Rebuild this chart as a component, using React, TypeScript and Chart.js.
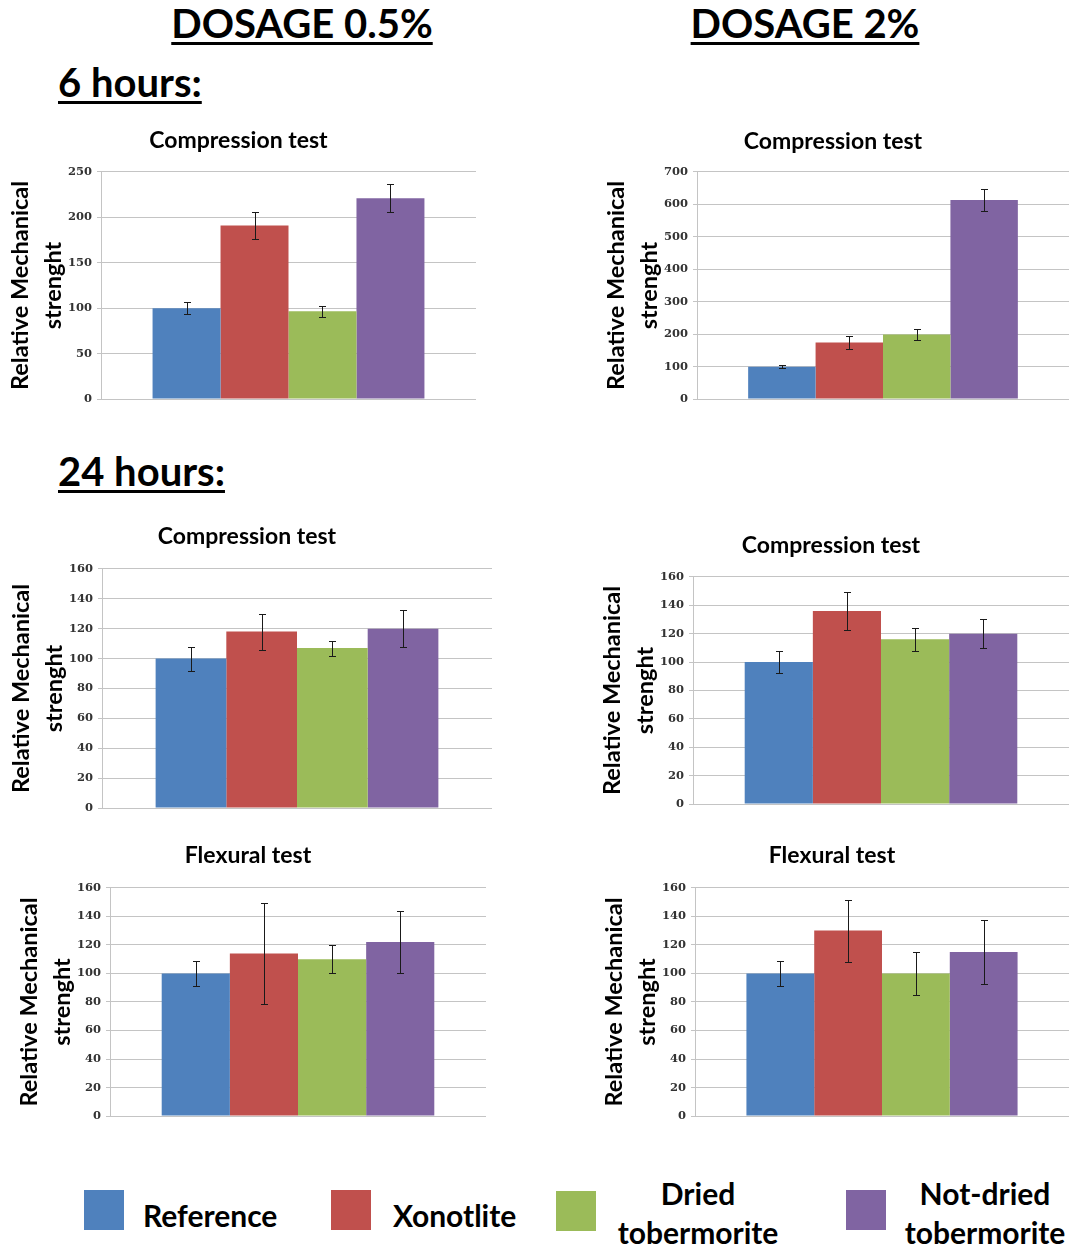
import React, { useEffect, useRef } from 'react';
import { Chart, registerables } from 'chart.js';

Chart.register(...registerables);

// ---------- data ----------
const materials = ['Reference', 'Xonotlite', 'Dried tobermorite', 'Not-dried tobermorite'];
const materialColors = ['#4f81bd', '#c0504d', '#9bbb59', '#8064a2'];

// 6 hours, dosage 0.5% - compression
const comp6h05 = [100, 191, 96.5, 221];
const comp6h05Err = [6.8, 14.7, 6, 15.4];
// 6 hours, dosage 2% - compression
const comp6h2 = [100, 174, 199, 613];
const comp6h2Err = [5, 20, 16, 33];
// 24 hours, dosage 0.5% - compression
const comp24h05 = [100, 118, 107, 120];
const comp24h05Err = [8, 12, 5, 12.6];
// 24 hours, dosage 2% - compression
const comp24h2 = [100, 136, 116, 120];
const comp24h2Err = [8, 13.3, 8, 10];
// 24 hours, dosage 0.5% - flexural
const flex24h05 = [100, 114, 110, 122];
const flex24h05Err = [8.7, 35.3, 10, 22];
// 24 hours, dosage 2% - flexural
const flex24h2 = [100, 130, 100, 115];
const flex24h2Err = [8.7, 21.7, 15, 22.7];

const yAxisTitle = ['Relative Mechanical', 'strenght'];
const compTitle = 'Compression test';
const flexTitle = 'Flexural test';

// ---------- layout ----------
type Panel = {
  title: string;
  values: number[];
  errors: number[];
  yMax: number;
  yStep: number;
  axisX: number;
  canvasRight: number;
  plotRight: number;
  plotTop: number;
  plotBottom: number;
  titleGap: number;
};

const panels: Panel[] = [
  { title: compTitle, values: comp6h05, errors: comp6h05Err, yMax: 250, yStep: 50, axisX: 101, canvasRight: 477, plotRight: 476, plotTop: 172, plotBottom: 401, titleGap: 31 },
  { title: compTitle, values: comp6h2, errors: comp6h2Err, yMax: 700, yStep: 100, axisX: 697, canvasRight: 1073, plotRight: 1069, plotTop: 172, plotBottom: 401, titleGap: 30 },
  { title: compTitle, values: comp24h05, errors: comp24h05Err, yMax: 160, yStep: 20, axisX: 102, canvasRight: 492, plotRight: 492, plotTop: 569, plotBottom: 810, titleGap: 32 },
  { title: compTitle, values: comp24h2, errors: comp24h2Err, yMax: 160, yStep: 20, axisX: 693, canvasRight: 1071, plotRight: 1069, plotTop: 577, plotBottom: 806, titleGap: 31 },
  { title: flexTitle, values: flex24h05, errors: flex24h05Err, yMax: 160, yStep: 20, axisX: 110, canvasRight: 486, plotRight: 486, plotTop: 888, plotBottom: 1118, titleGap: 32 },
  { title: flexTitle, values: flex24h2, errors: flex24h2Err, yMax: 160, yStep: 20, axisX: 695, canvasRight: 1071, plotRight: 1069, plotTop: 888, plotBottom: 1118, titleGap: 32 },
];

const Y_AXIS_W = 100;
const TITLE_SIZE = 23;
const TITLE_LH = TITLE_SIZE * 1.2;
const TITLE_PAD_TOP = 6;
const PAD_BOTTOM = 10;

function geom(p: Panel) {
  const left = p.axisX - Y_AXIS_W;
  const padBottomTitle = p.titleGap - TITLE_LH / 2;
  const top = p.plotTop - (TITLE_PAD_TOP + TITLE_LH + padBottomTitle);
  const width = p.canvasRight - left;
  const height = p.plotBottom + PAD_BOTTOM - top;
  return { left, top: Math.round(top), width, height: Math.round(height), padBottomTitle, padRight: p.canvasRight - p.plotRight };
}

function makeErrorPlugin(values: number[], errors: number[]) {
  return {
    id: 'errorBars',
    afterDatasetsDraw(chart: any) {
      const ctx = chart.ctx;
      const yScale = chart.scales.y;
      ctx.save();
      ctx.strokeStyle = '#1a1a1a';
      ctx.lineWidth = 1;
      values.forEach((v, i) => {
        const meta = chart.getDatasetMeta(i);
        const bar = meta.data[0];
        if (!bar) return;
        const x = Math.round(bar.x) + 0.5;
        const yHi = Math.round(yScale.getPixelForValue(v + errors[i])) + 0.5;
        const yLo = Math.round(yScale.getPixelForValue(v - errors[i])) + 0.5;
        const cap = 3.5;
        ctx.beginPath();
        ctx.moveTo(x, yHi);
        ctx.lineTo(x, yLo);
        ctx.moveTo(x - cap, yHi);
        ctx.lineTo(x + cap, yHi);
        ctx.moveTo(x - cap, yLo);
        ctx.lineTo(x + cap, yLo);
        ctx.stroke();
      });
      ctx.restore();
    },
  };
}

function BarPanel({ panel }: { panel: Panel }) {
  const ref = useRef<HTMLCanvasElement | null>(null);
  const g = geom(panel);

  useEffect(() => {
    let chart: Chart | null = null;
    let cancelled = false;
    const fontsReady = (document as any).fonts
      ? Promise.all([
          (document as any).fonts.load('bold 23px Lato'),
          (document as any).fonts.load('bold 11px "DejaVu Serif"'),
        ]).catch(() => null)
      : Promise.resolve(null);
    fontsReady.then(() => {
      if (cancelled || !ref.current) return;
      chart = new Chart(ref.current, {
        type: 'bar',
        data: {
          labels: [''],
          datasets: materials.map((m, i) => ({
            label: m,
            data: [panel.values[i]],
            backgroundColor: materialColors[i],
            borderWidth: 0,
            categoryPercentage: 0.725,
            barPercentage: 1,
          })),
        },
        options: {
          responsive: false,
          animation: false,
          events: [],
          layout: { padding: { left: 0, right: g.padRight, top: 0, bottom: PAD_BOTTOM } },
          plugins: {
            legend: { display: false },
            tooltip: { enabled: false },
            title: {
              display: true,
              text: panel.title,
              color: '#000',
              font: { family: 'Lato', size: TITLE_SIZE, weight: 'bold', lineHeight: 1.2 },
              padding: { top: TITLE_PAD_TOP, bottom: g.padBottomTitle },
            },
          },
          scales: {
            x: { display: false },
            y: {
              min: 0,
              max: panel.yMax,
              ticks: {
                stepSize: panel.yStep,
                color: '#333',
                padding: 5,
                font: { family: 'DejaVu Serif', size: 11.5, weight: 'bold' },
              },
              grid: { color: '#c4c4c4', lineWidth: 1, tickLength: 4, drawTicks: true },
              border: { display: true, color: '#c4c4c4' },
              title: {
                display: true,
                text: yAxisTitle,
                color: '#000',
                font: { family: 'Lato', size: 23.5, weight: 'bold', lineHeight: 1.4 },
                padding: { top: 3, bottom: 0 },
              },
              afterFit: (s: any) => {
                s.width = Y_AXIS_W;
              },
            },
          },
        },
        plugins: [makeErrorPlugin(panel.values, panel.errors)],
      } as any);
    });
    return () => {
      cancelled = true;
      if (chart) chart.destroy();
    };
  }, []);

  return (
    <canvas
      ref={ref}
      width={g.width}
      height={g.height}
      style={{ position: 'absolute', left: g.left, top: g.top, width: g.width, height: g.height }}
    />
  );
}

const headingStyle: React.CSSProperties = {
  position: 'absolute',
  fontFamily: 'Lato, sans-serif',
  fontWeight: 700,
  fontSize: 40,
  lineHeight: '48px',
  color: '#000',
  whiteSpace: 'nowrap',
};
const underline: React.CSSProperties = {
  textDecoration: 'underline',
  textDecorationThickness: '3px',
  textUnderlineOffset: '4px',
};
const legendText: React.CSSProperties = {
  position: 'absolute',
  fontFamily: 'Lato, sans-serif',
  fontWeight: 700,
  fontSize: 30,
  lineHeight: '39px',
  color: '#000',
  whiteSpace: 'nowrap',
  textAlign: 'center',
};

const legendBoxes = [
  { x: 84, y: 1190 },
  { x: 331, y: 1190 },
  { x: 556, y: 1191 },
  { x: 846, y: 1190 },
];

export default function App() {
  return (
    <div style={{ position: 'absolute', left: 0, top: 0, width: 1073, height: 1250, background: '#fff', overflow: 'hidden' }}>
      <div style={{ ...headingStyle, left: 102, width: 400, top: -1, textAlign: 'center' }}>
        <span style={underline}>DOSAGE 0.5%</span>
      </div>
      <div style={{ ...headingStyle, left: 605, width: 400, top: -1, textAlign: 'center' }}>
        <span style={underline}>DOSAGE 2%</span>
      </div>
      <div style={{ ...headingStyle, left: 58, top: 58 }}>
        <span style={underline}>6 hours:</span>
      </div>
      <div style={{ ...headingStyle, left: 58, top: 447 }}>
        <span style={underline}>24 hours:</span>
      </div>

      {panels.map((p, i) => (
        <BarPanel key={i} panel={p} />
      ))}

      {legendBoxes.map((b, i) => (
        <div key={i} style={{ position: 'absolute', left: b.x, top: b.y, width: 40, height: 40, background: materialColors[i] }} />
      ))}
      <div style={{ ...legendText, left: 143, top: 1196, textAlign: 'left' }}>{materials[0]}</div>
      <div style={{ ...legendText, left: 393, top: 1196, textAlign: 'left' }}>{materials[1]}</div>
      <div style={{ ...legendText, left: 598, width: 200, top: 1174 }}>
        Dried
        <br />
        tobermorite
      </div>
      <div style={{ ...legendText, left: 885, width: 200, top: 1174 }}>
        Not-dried
        <br />
        tobermorite
      </div>
    </div>
  );
}
